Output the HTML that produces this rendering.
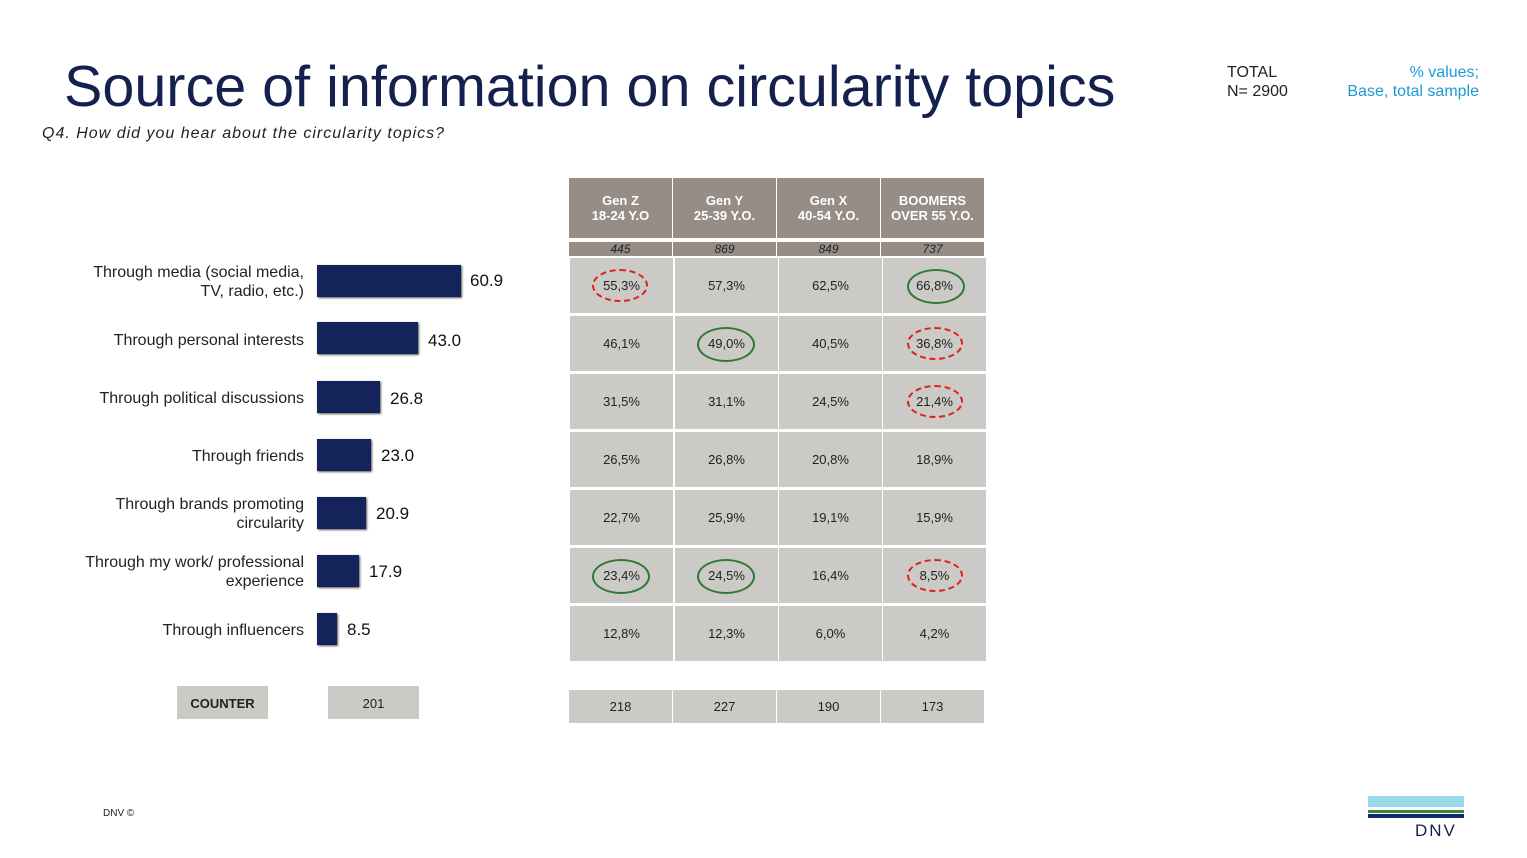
<!DOCTYPE html>
<html><head><meta charset="utf-8"><style>
body{margin:0;width:1527px;height:858px;background:#fff;position:relative;overflow:hidden;font-family:"Liberation Sans",Arial,sans-serif}
.a{position:absolute}
.lbl{position:absolute;right:1223px;text-align:right;font-size:16px;color:#222;line-height:19px}
.bar{position:absolute;left:317px;height:32px;background:#14245a;box-shadow:1px 1px 2px #555}
.val{position:absolute;font-size:17px;color:#111}
.h{position:absolute;top:178px;height:60px;background:#968d86;color:#fff;font-size:13px;font-weight:bold;text-align:center;display:flex;align-items:center;justify-content:center;line-height:15px}
.n{position:absolute;top:242px;height:14px;background:#968d86;color:#222;font-size:12px;font-style:italic;text-align:center;line-height:14px}
.c{position:absolute;height:55px;background:#cbcac6;font-size:13px;color:#222;text-align:center;line-height:55px;width:103px}
.b{position:absolute;top:690px;height:33px;background:#cbcac6;font-size:13px;color:#222;text-align:center;line-height:33px;width:103px}
.r{position:absolute;left:22px;top:11px;width:56px;height:33px;border:2px dashed #e0201c;border-radius:50%;box-sizing:border-box}
.g{position:absolute;left:22px;top:11px;width:58px;height:35px;border:2px solid #2e7a32;border-radius:50%;box-sizing:border-box}
</style></head><body>
<div class="a" style="left:64px;top:54px;font-size:57.5px;color:#14214f;white-space:nowrap">Source of information on circularity topics</div>
<div class="a" style="left:42px;top:125px;font-size:16px;letter-spacing:1px;font-style:italic;color:#222">Q4. How did you hear about the circularity topics?</div>
<div class="a" style="left:1227px;top:63px;font-size:16px;color:#222;line-height:19px">TOTAL<br>N= 2900</div>
<div class="a" style="right:48px;top:63px;font-size:16px;color:#1c9ad6;line-height:19px;text-align:right">% values;<br>Base, total sample</div>

<div class="lbl" style="top:263px">Through media (social media,<br>TV, radio, etc.)</div>
<div class="lbl" style="top:331px">Through personal interests</div>
<div class="lbl" style="top:389px">Through political discussions</div>
<div class="lbl" style="top:447px">Through friends</div>
<div class="lbl" style="top:495px">Through brands promoting<br>circularity</div>
<div class="lbl" style="top:553px">Through my work/ professional<br>experience</div>
<div class="lbl" style="top:621px">Through influencers</div>

<div class="bar" style="top:265px;width:144px"></div><div class="val" style="left:470px;top:271px">60.9</div>
<div class="bar" style="top:322px;width:101px"></div><div class="val" style="left:428px;top:331px">43.0</div>
<div class="bar" style="top:381px;width:63px"></div><div class="val" style="left:390px;top:389px">26.8</div>
<div class="bar" style="top:439px;width:54px"></div><div class="val" style="left:381px;top:446px">23.0</div>
<div class="bar" style="top:497px;width:49px"></div><div class="val" style="left:376px;top:504px">20.9</div>
<div class="bar" style="top:555px;width:42px"></div><div class="val" style="left:369px;top:562px">17.9</div>
<div class="bar" style="top:613px;width:20px"></div><div class="val" style="left:347px;top:620px">8.5</div>

<div class="a" style="left:177px;top:686px;width:91px;height:33px;background:#cbcac6;font-size:13px;font-weight:bold;color:#222;text-align:center;line-height:35px">COUNTER</div>
<div class="a" style="left:328px;top:686px;width:91px;height:33px;background:#cbcac6;font-size:13px;color:#222;text-align:center;line-height:35px">201</div>

<div class="h" style="left:569px;width:103px">Gen Z<br>18-24 Y.O</div>
<div class="h" style="left:673px;width:103px">Gen Y<br>25-39 Y.O.</div>
<div class="h" style="left:777px;width:103px">Gen X<br>40-54 Y.O.</div>
<div class="h" style="left:881px;width:103px">BOOMERS<br>OVER 55 Y.O.</div>
<div class="n" style="left:569px;width:103px">445</div>
<div class="n" style="left:673px;width:103px">869</div>
<div class="n" style="left:777px;width:103px">849</div>
<div class="n" style="left:881px;width:103px">737</div>

<div class="c" style="left:570px;top:258px"><div class="r"></div>55,3%</div>
<div class="c" style="left:675px;top:258px">57,3%</div>
<div class="c" style="left:779px;top:258px">62,5%</div>
<div class="c" style="left:883px;top:258px"><div class="g" style="left:24px"></div>66,8%</div>

<div class="c" style="left:570px;top:316px">46,1%</div>
<div class="c" style="left:675px;top:316px"><div class="g"></div>49,0%</div>
<div class="c" style="left:779px;top:316px">40,5%</div>
<div class="c" style="left:883px;top:316px"><div class="r" style="left:24px"></div>36,8%</div>

<div class="c" style="left:570px;top:374px">31,5%</div>
<div class="c" style="left:675px;top:374px">31,1%</div>
<div class="c" style="left:779px;top:374px">24,5%</div>
<div class="c" style="left:883px;top:374px"><div class="r" style="left:24px"></div>21,4%</div>

<div class="c" style="left:570px;top:432px">26,5%</div>
<div class="c" style="left:675px;top:432px">26,8%</div>
<div class="c" style="left:779px;top:432px">20,8%</div>
<div class="c" style="left:883px;top:432px">18,9%</div>

<div class="c" style="left:570px;top:490px">22,7%</div>
<div class="c" style="left:675px;top:490px">25,9%</div>
<div class="c" style="left:779px;top:490px">19,1%</div>
<div class="c" style="left:883px;top:490px">15,9%</div>

<div class="c" style="left:570px;top:548px"><div class="g"></div>23,4%</div>
<div class="c" style="left:675px;top:548px"><div class="g"></div>24,5%</div>
<div class="c" style="left:779px;top:548px">16,4%</div>
<div class="c" style="left:883px;top:548px"><div class="r" style="left:24px"></div>8,5%</div>

<div class="c" style="left:570px;top:606px">12,8%</div>
<div class="c" style="left:675px;top:606px">12,3%</div>
<div class="c" style="left:779px;top:606px">6,0%</div>
<div class="c" style="left:883px;top:606px">4,2%</div>

<div class="b" style="left:569px">218</div>
<div class="b" style="left:673px">227</div>
<div class="b" style="left:777px">190</div>
<div class="b" style="left:881px">173</div>

<div class="a" style="left:103px;top:808px;font-size:10px;color:#222">DNV ©</div>
<div class="a" style="left:1368px;top:796px;width:96px;height:11px;background:#99d9ea"></div>
<div class="a" style="left:1368px;top:810px;width:96px;height:3px;background:#3a8a3a"></div>
<div class="a" style="left:1368px;top:814px;width:96px;height:4px;background:#0f2b6e"></div>
<div class="a" style="left:1415px;top:821px;font-size:17px;letter-spacing:2px;color:#14214f">DNV</div>
</body></html>
